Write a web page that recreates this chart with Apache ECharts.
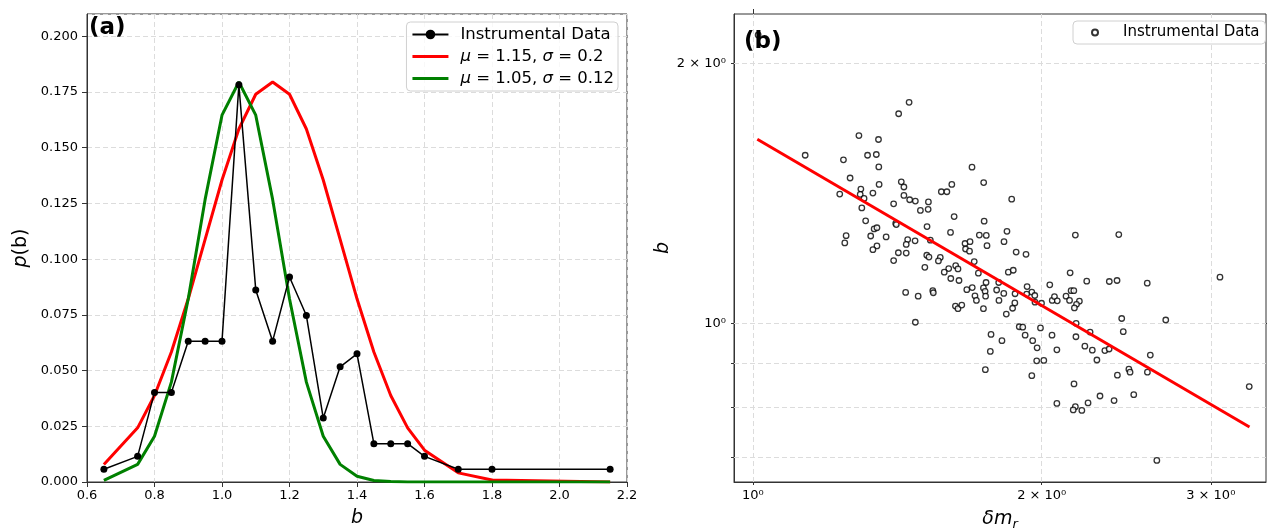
<!DOCTYPE html>
<html><head><meta charset="utf-8">
<script src="https://cdn.jsdelivr.net/npm/echarts@6/dist/echarts.min.js"></script>
<style>html,body{margin:0;padding:0;background:#fff;overflow:hidden}#c{width:1267px;height:528px}</style>
</head><body><div id="c"></div>
<script>
// ---- Panel (a) data ----
const bValuesA = [0.65,0.75,0.80,0.85,0.90,0.95,1.00,1.05,1.10,1.15,1.20,1.25,1.30,1.35,1.40,1.45,1.50,1.55,1.60,1.70,1.80,2.15];
const instrumentalP = [0.0057,0.0115,0.0402,0.0402,0.0632,0.0632,0.0632,0.1782,0.0862,0.0632,0.0920,0.0747,0.0287,0.0517,0.0575,0.0172,0.0172,0.0172,0.0115,0.0057,0.0057,0.0057];
const redP   = [0.0079,0.0243,0.0388,0.0583,0.0822,0.1089,0.1355,0.1584,0.1740,0.1795,0.1740,0.1584,0.1355,0.1089,0.0822,0.0583,0.0388,0.0243,0.0143,0.0041,0.0009,0.0000];
const greenP = [0.0007,0.0079,0.0205,0.0448,0.0822,0.1268,0.1646,0.1795,0.1646,0.1268,0.0822,0.0448,0.0205,0.0079,0.0026,0.0007,0.0002,0.0000,0.0000,0.0000,0.0000,0.0000];
const seriesNamesA = ['Instrumental Data','μ = 1.15, σ = 0.2','μ = 1.05, σ = 0.12'];

// ---- Panel (b) data ----
const dmValues = [1.455,1.419,1.290,1.352,1.134,1.243,1.317,1.345,1.353,1.263,1.428,1.437,1.354,1.296,1.232,1.294,1.306,1.334,1.437,1.457,1.477,1.572,1.593,1.612,1.524,1.402,1.299,1.495,1.523,1.621,1.311,1.409,1.411,1.338,1.347,1.519,1.607,1.251,1.247,1.327,1.377,1.450,1.476,1.445,1.531,1.347,1.334,1.418,1.445,1.518,1.526,1.568,1.561,1.402,1.511,1.600,1.583,1.627,1.636,1.664,1.684,1.666,1.682,1.692,1.740,1.861,1.742,1.722,1.751,1.840,1.754,1.827,1.881,1.926,1.701,1.718,1.846,1.868,2.168,2.406,2.141,1.608,1.640,1.443,1.487,1.540,1.542,1.671,1.693,1.750,1.804,1.739,1.746,1.795,1.826,1.876,1.704,1.748,1.710,1.805,1.875,1.626,1.636,1.651,1.739,1.865,1.837,1.477,1.895,1.911,1.771,1.818,1.768,1.747,3.067,2.039,2.228,2.352,2.396,2.576,1.931,1.953,1.929,1.967,1.968,1.999,2.051,2.062,2.076,2.120,2.138,2.146,2.160,2.189,2.174,2.163,2.423,2.693,2.172,1.922,1.957,1.978,1.994,1.976,2.010,1.953,2.050,2.074,2.171,2.246,2.218,2.258,2.283,2.327,2.351,2.432,2.398,2.465,2.472,2.577,2.595,3.290,2.161,2.074,2.168,2.157,2.202,2.235,2.300,2.379,2.494,2.636,1.013];
const bValues  = [1.802,1.748,1.649,1.632,1.565,1.546,1.565,1.568,1.517,1.473,1.458,1.438,1.448,1.430,1.411,1.410,1.395,1.415,1.406,1.390,1.385,1.420,1.420,1.448,1.382,1.375,1.360,1.351,1.355,1.329,1.314,1.305,1.301,1.286,1.290,1.294,1.274,1.263,1.239,1.262,1.259,1.250,1.246,1.234,1.248,1.229,1.217,1.207,1.206,1.199,1.193,1.192,1.181,1.182,1.161,1.157,1.146,1.166,1.156,1.237,1.243,1.219,1.212,1.516,1.455,1.392,1.313,1.265,1.264,1.278,1.230,1.243,1.209,1.202,1.179,1.143,1.146,1.152,1.265,1.267,1.144,1.127,1.121,1.086,1.075,1.091,1.085,1.094,1.100,1.115,1.115,1.099,1.089,1.093,1.083,1.082,1.076,1.075,1.063,1.063,1.056,1.047,1.040,1.050,1.040,1.041,1.025,1.003,0.991,0.990,0.971,0.955,0.928,0.884,1.131,1.108,1.119,1.118,1.121,1.113,1.103,1.087,1.081,1.077,1.058,1.055,1.063,1.074,1.062,1.075,1.063,1.091,1.091,1.061,1.052,1.042,1.013,1.009,1.000,0.969,0.955,0.937,0.988,0.905,0.906,0.870,0.969,0.932,0.965,0.977,0.941,0.931,0.907,0.930,0.934,0.978,0.871,0.885,0.878,0.878,0.919,0.845,0.851,0.808,0.801,0.794,0.793,0.809,0.824,0.814,0.827,0.694,2.156];
const fitDm = [1.011, 3.292];
const fitB  = [1.633, 0.7586];
const xTickValsB = [1, 2, 3];
const xTickLabelsB = ['10⁰', '2 × 10⁰', '3 × 10⁰'];
const yTickValsB = [0.7, 0.8, 0.9, 1, 2];
const yLabelValsB = [1, 2];
const yTickLabelsB = ['10⁰', '2 × 10⁰'];

const FONT = 'DejaVu Sans';
const gridColor = '#dcdcdc';
const lab = {color:'#000', fontFamily: FONT, fontSize: 13};
const lineIcon = 'path://M0,0 L36,0 L36,3 L0,3 Z';

const pairs = (xs, ys) => xs.map((x, i) => [x, ys[i]]);
const labelFor = (vals, labels) => v => { const i = vals.findIndex(t => Math.abs(t - v) < 1e-6); return i >= 0 ? labels[i] : ''; };

const chart = echarts.init(document.getElementById('c'), null, {renderer: 'canvas'});
const option = {
  backgroundColor: '#fff',
  animation: false,
  textStyle: {fontFamily: FONT},
  grid: [
    {left: 87, top: 14, width: 540, height: 468, containLabel: false, outerBoundsMode: 'none',
     show: true, borderColor: '#333', borderWidth: 1, backgroundColor: 'transparent'},
    {left: 734, top: 14, width: 532, height: 468, containLabel: false, outerBoundsMode: 'none',
     show: true, borderColor: '#333', borderWidth: 1, backgroundColor: 'transparent'}
  ],
  xAxis: [
    {gridIndex: 0, type: 'value', min: 0.6, max: 2.2, interval: 0.2,
     axisLine: {show: true, onZero: false, lineStyle: {color: '#333'}},
     axisTick: {show: true, length: 5, lineStyle: {color: '#333'}},
     axisLabel: Object.assign({margin: 7, formatter: v => v.toFixed(1)}, lab),
     splitLine: {show: true, lineStyle: {color: gridColor, type: [5, 3]}},
     name: 'b', nameLocation: 'middle', nameGap: 27,
     nameTextStyle: {fontFamily: FONT, fontSize: 19, fontStyle: 'italic', color: '#000'}},
    {gridIndex: 1, type: 'log', logBase: 10, min: 0.956, max: 3.425,
     axisLine: {show: true, onZero: false, lineStyle: {color: '#333'}},
     axisTick: {show: true, length: 3, customValues: xTickValsB, lineStyle: {color: '#333'}},
     axisLabel: Object.assign({margin: 7, customValues: xTickValsB, formatter: labelFor(xTickValsB, xTickLabelsB)}, lab),
     splitLine: {show: false}, minorTick: {show: false},
     name: '{i|δm}{s|r}', nameLocation: 'middle', nameGap: 26,
     nameTextStyle: {color: '#000', rich: {
       i: {fontFamily: FONT, fontSize: 19, fontStyle: 'italic', color: '#000'},
       s: {fontFamily: FONT, fontSize: 13, fontStyle: 'italic', color: '#000', padding: [10, 0, 0, 0]}}}},
    {gridIndex: 1, type: 'log', logBase: 10, min: 0.956, max: 3.425,
     axisLine: {show: false}, axisLabel: {show: false}, splitLine: {show: false},
     axisTick: {show: true, length: 5, customValues: [1], lineStyle: {color: '#333'}}}
  ],
  yAxis: [
    {gridIndex: 0, type: 'value', min: 0, max: 0.21, interval: 0.025,
     axisLine: {show: true, onZero: false, lineStyle: {color: '#333'}},
     axisTick: {show: true, length: 5, lineStyle: {color: '#333'}},
     axisLabel: Object.assign({margin: 9, showMaxLabel: false, formatter: v => v.toFixed(3)}, lab),
     splitLine: {show: true, lineStyle: {color: gridColor, type: [5, 3]}},
     name: '{i|p}(b)', nameLocation: 'middle', nameGap: 56,
     nameTextStyle: {fontFamily: FONT, fontSize: 19, color: '#000', rich: {
       i: {fontFamily: FONT, fontSize: 19, fontStyle: 'italic', color: '#000'}}}},
    {gridIndex: 1, type: 'log', logBase: 10, min: 0.6553, max: 2.28,
     axisLine: {show: true, onZero: false, lineStyle: {color: '#333'}},
     axisTick: {show: true, length: 3, customValues: yTickValsB, lineStyle: {color: '#333'}},
     axisLabel: Object.assign({margin: 8, customValues: yLabelValsB, formatter: labelFor(yLabelValsB, yTickLabelsB)}, lab),
     splitLine: {show: false}, minorTick: {show: false},
     name: 'b', nameLocation: 'middle', nameGap: 61,
     nameTextStyle: {fontFamily: FONT, fontSize: 19, fontStyle: 'italic', color: '#000'}},
    {gridIndex: 1, type: 'log', logBase: 10, min: 0.6553, max: 2.28,
     axisLine: {show: false}, axisLabel: {show: false}, splitLine: {show: false},
     axisTick: {show: true, length: 5, customValues: [1], lineStyle: {color: '#333'}}}
  ],
  legend: [
    {data: [{name: seriesNamesA[0]}, {name: seriesNamesA[1], icon: lineIcon}, {name: seriesNamesA[2], icon: lineIcon}],
     orient: 'vertical', right: 649, top: 22,
     itemWidth: 36, itemHeight: 12, itemGap: 5, padding: [4, 4, 4, 5],
     backgroundColor: 'rgba(255,255,255,0.8)', borderColor: '#d0d0d0', borderWidth: 1, borderRadius: 4,
     selectedMode: false,
     formatter: n => n.replace('μ', '{i|μ}').replace('σ', '{i|σ}'),
     textStyle: {fontFamily: FONT, fontSize: 16.5, color: '#000', padding: [0, 0, 0, 7],
       rich: {i: {fontFamily: FONT, fontSize: 16.5, fontStyle: 'italic', color: '#000'}}}},
    {data: [{name: 'Instrumental Data (b)', icon: 'circle'}], orient: 'vertical', left: 1073, top: 21,
     itemWidth: 6, itemHeight: 6, padding: [4, 6, 4, 18],
     backgroundColor: 'rgba(255,255,255,0.8)', borderColor: '#d0d0d0', borderWidth: 1, borderRadius: 4,
     selectedMode: false,
     formatter: () => '{t|Instrumental Data}',
     textStyle: {fontFamily: FONT, fontSize: 15, color: '#000',
       rich: {t: {fontFamily: FONT, fontSize: 15, color: '#000', padding: [0, 0, 0, 20]}}}}
  ],
  graphic: [
    {type: 'text', left: 89, top: 17, z: 100, style: {text: '(a)', font: 'bold 23px "DejaVu Sans"', fill: '#000'}},
    {type: 'text', left: 744, top: 31, z: 100, style: {text: '(b)', font: 'bold 23px "DejaVu Sans"', fill: '#000'}}
  ],
  series: [
    {name: seriesNamesA[0], type: 'line', xAxisIndex: 0, yAxisIndex: 0, z: 5,
     data: pairs(bValuesA, instrumentalP), symbol: 'circle', symbolSize: 7,
     lineStyle: {color: '#000', width: 1.5}, itemStyle: {color: '#000'}},
    {name: seriesNamesA[1], type: 'line', xAxisIndex: 0, yAxisIndex: 0, z: 3,
     data: pairs(bValuesA, redP), symbol: 'none', lineStyle: {color: '#ff0000', width: 3}, itemStyle: {color: '#ff0000'}},
    {name: seriesNamesA[2], type: 'line', xAxisIndex: 0, yAxisIndex: 0, z: 4,
     data: pairs(bValuesA, greenP), symbol: 'none', lineStyle: {color: '#008000', width: 3}, itemStyle: {color: '#008000'}},
    {name: 'Instrumental Data (b)', type: 'scatter', xAxisIndex: 1, yAxisIndex: 1, z: 3,
     data: pairs(dmValues, bValues), symbol: 'circle', symbolSize: 5.5,
     itemStyle: {color: '#fff', borderColor: '#000', borderWidth: 1.3}},
    {name: 'fit', type: 'line', xAxisIndex: 1, yAxisIndex: 1, z: 4,
     data: pairs(fitDm, fitB), symbol: 'none', lineStyle: {color: '#ff0000', width: 3},
     markLine: {silent: true, symbol: 'none', z: 1, label: {show: false},
       lineStyle: {color: gridColor, type: [5, 3], width: 1},
       data: xTickValsB.map(v => ({xAxis: v})).concat(yTickValsB.map(v => ({yAxis: v})))}}
  ]
};
chart.setOption(option);
</script></body></html>
